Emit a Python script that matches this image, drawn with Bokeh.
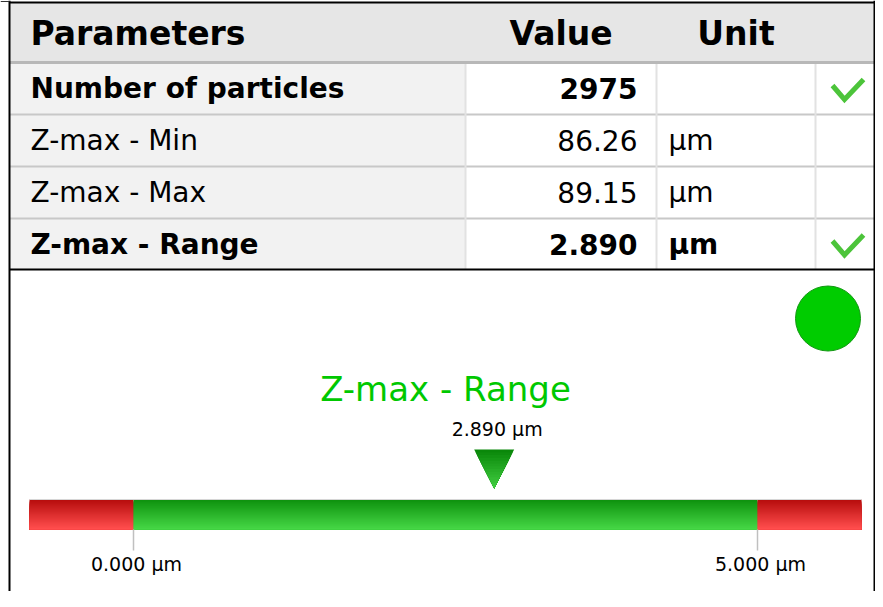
import numpy as np
from bokeh.plotting import figure
from bokeh.models import Range1d
from bokeh.core.properties import value
from bokeh.embed import file_html
from bokeh.resources import INLINE

# ---------------- data ----------------
headers = ["Parameters", "Value", "Unit"]
params = ["Number of particles", "Z-max - Min", "Z-max - Max", "Z-max - Range"]
values = ["2975", "86.26", "89.15", "2.890"]
units = ["", "µm", "µm", "µm"]
bold_rows = [True, False, False, True]
checked = [True, False, False, True]

gauge_title = "Z-max - Range"
gauge_value = 2.890
gauge_lo = 0.0
gauge_hi = 5.0
gauge_unit = "µm"
status_ok = True

# ---------------- layout (figure pixels) ----------------
W, H = 875, 591
FONT = value("DejaVu Sans")
col_edges = [9, 465, 656, 815, 874]
row_edges = [2, 62, 114, 166, 218, 269]
check_cx = 848

p = figure(width=W, height=H, x_range=Range1d(0, W), y_range=Range1d(H, 0),
           output_backend="svg", toolbar_location=None, min_border=0,
           x_axis_location=None, y_axis_location=None, outline_line_color=None,
           background_fill_color="white", border_fill_color="white")
p.xgrid.grid_line_color = None
p.ygrid.grid_line_color = None

# gauge scale: bar spans fig px 29..861, covering lo - span/6 .. hi + span/6
span = gauge_hi - gauge_lo
bar_start = gauge_lo - span / 6
bar_end = gauge_hi + span / 6
bar_px_left, bar_px_right = 29, 861
ppu = (bar_px_right - bar_px_left) / (bar_end - bar_start)
g_start = bar_start - bar_px_left / ppu
g_end = g_start + W / ppu
p.extra_x_ranges = {"gauge": Range1d(g_start, g_end)}

# ---------------- table ----------------
p.quad(left=[col_edges[0]], right=[col_edges[-1]], top=[row_edges[0]], bottom=[row_edges[1]],
       fill_color="#e6e6e6", line_color=None)
n = len(params)
p.quad(left=[col_edges[0]] * n, right=[col_edges[1]] * n,
       top=row_edges[1:-1], bottom=row_edges[2:], fill_color="#f2f2f2", line_color=None)

p.multi_line(xs=[[col_edges[0], col_edges[-1]]] * 3, ys=[[y, y] for y in row_edges[2:5]],
             line_color="#c8c8c8", line_width=2)
p.multi_line(xs=[[x, x] for x in col_edges[1:4]], ys=[[row_edges[1], row_edges[-1]]] * 3,
             line_color="#e2e2e2", line_width=2)
p.line(x=[col_edges[0], col_edges[-1]], y=[row_edges[1], row_edges[1]], line_color="#b8b8b8", line_width=3)
# frame
p.multi_line(xs=[[col_edges[0], col_edges[0]], [col_edges[-1], col_edges[-1]],
                 [col_edges[0], col_edges[-1]], [col_edges[0], col_edges[-1]]],
             ys=[[0, H], [0, H], [row_edges[0], row_edges[0]], [row_edges[-1], row_edges[-1]]],
             line_color="black", line_width=2)
p.line(x=[0, col_edges[0]], y=[1, 1], line_color="#333333", line_width=1)

# header text
hy = 33
p.text(x=[30], y=[hy], text=[headers[0]], text_font=FONT, text_font_size="33px",
       text_font_style="bold", text_align="left", text_baseline="middle", text_color="#000000")
p.text(x=[(col_edges[1] + col_edges[2]) / 2, (col_edges[2] + col_edges[3]) / 2], y=[hy, hy],
       text=headers[1:], text_font=FONT, text_font_size="33px",
       text_font_style="bold", text_align="center", text_baseline="middle", text_color="#000000")

row_centers = [(row_edges[i + 1] + row_edges[i + 2]) / 2 for i in range(n)]
for style, flag in (("bold", True), ("normal", False)):
    idx = [i for i in range(n) if bold_rows[i] == flag]
    ys = [row_centers[i] for i in idx]
    p.text(x=[30] * len(idx), y=ys, text=[params[i] for i in idx], text_font=FONT,
           text_font_size="28px", text_font_style=style, text_align="left",
           text_baseline="middle", text_color="#000000")
    p.text(x=[637] * len(idx), y=ys, text=[values[i] for i in idx], text_font=FONT,
           text_font_size="28px", text_font_style=style, text_align="right",
           text_baseline="middle", text_color="#000000")
    p.text(x=[668] * len(idx), y=ys, text=[units[i] for i in idx], text_font=FONT,
           text_font_size="28px", text_font_style=style, text_align="left",
           text_baseline="middle", text_color="#000000")

# check marks (icon shape relative to cell centre)
check_shape_x = [-16, -4, 15]
check_shape_y = [-3, 11, -9]
cxs, cys = [], []
for i in range(n):
    if checked[i]:
        cxs.append([check_cx + dx for dx in check_shape_x])
        cys.append([row_centers[i] + dy for dy in check_shape_y])
p.multi_line(xs=cxs, ys=cys, line_color="#4cc43a", line_width=5, line_join="miter", line_cap="butt")

# ---------------- gauge ----------------
def hex_mix(c0, c1, t):
    a = np.array([int(c0[i:i + 2], 16) for i in (1, 3, 5)], float)
    b = np.array([int(c1[i:i + 2], 16) for i in (1, 3, 5)], float)
    c = a + (b - a) * t
    return "#%02x%02x%02x" % tuple(int(round(v)) for v in c)

bar_top, bar_bot = 499, 529
zone_left = [bar_start, gauge_lo, gauge_hi]
zone_right = [gauge_lo, gauge_hi, bar_end]
zone_colors = [("#b80e0e", "#ff4d4d"), ("#0f930f", "#45d645"), ("#b80e0e", "#ff4d4d")]
NS = 15
ql, qr, qt, qb, qc = [], [], [], [], []
edges = np.linspace(bar_top, bar_bot, NS + 1)
for k in range(NS):
    for zl, zr, (c0, c1) in zip(zone_left, zone_right, zone_colors):
        ql.append(zl); qr.append(zr)
        qt.append(edges[k]); qb.append(bar_bot)
        qc.append(hex_mix(c0, c1, k / (NS - 1)))
p.quad(left=ql, right=qr, top=qt, bottom=qb, fill_color=qc, line_color=None, x_range_name="gauge")
p.line(x=[bar_start, bar_end], y=[bar_top, bar_top], line_color="#d6d6d6", line_width=1, x_range_name="gauge")

# ticks and labels
tick_vals = [gauge_lo, gauge_hi]
p.multi_line(xs=[[v, v] for v in tick_vals], ys=[[bar_bot, 550]] * 2, line_color="#c0c0c0",
             line_width=1.5, x_range_name="gauge")
p.text(x=tick_vals, y=[563] * 2, text=[f"{v:.3f} {gauge_unit}" for v in tick_vals], text_font=FONT,
       text_font_size="19px", text_align="center", text_baseline="middle", text_color="#000000",
       x_offset=3, x_range_name="gauge")

# pointer triangle with gradient (nested triangles, seam-free)
tri_top, tri_tip, tri_hw = 449, 488, 20
NT = 14
tys = np.linspace(tri_top, tri_tip, NT + 1)[:-1]
pxs, pys, pcs = [], [], []
for k, a in enumerate(tys):
    hwa = tri_hw * (1 - (a - tri_top) / (tri_tip - tri_top))
    pxs.append([gauge_value - hwa / ppu, gauge_value + hwa / ppu, gauge_value])
    pys.append([a, a, tri_tip])
    pcs.append(hex_mix("#0a880a", "#40cc40", k / (NT - 1)))
p.patches(xs=pxs, ys=pys, fill_color=pcs, line_color=None, x_range_name="gauge")

p.text(x=[gauge_value], y=[428], text=[f"{gauge_value:.3f} {gauge_unit}"], text_font=FONT,
       text_font_size="19px", text_align="center", text_baseline="middle", text_color="#000000",
       x_offset=3, x_range_name="gauge")

p.text(x=[(bar_start + bar_end) / 2], y=[388], text=[gauge_title], text_font=FONT,
       text_font_size="34px", text_align="center", text_baseline="middle", text_color="#00c800",
       x_range_name="gauge")

# status light
p.scatter(x=[827.5], y=[318], size=65, marker="circle",
          fill_color="#00cc00" if status_ok else "#dd0000", line_color="#149814", line_width=1)

open("out.html", "w").write(file_html(p, INLINE))
